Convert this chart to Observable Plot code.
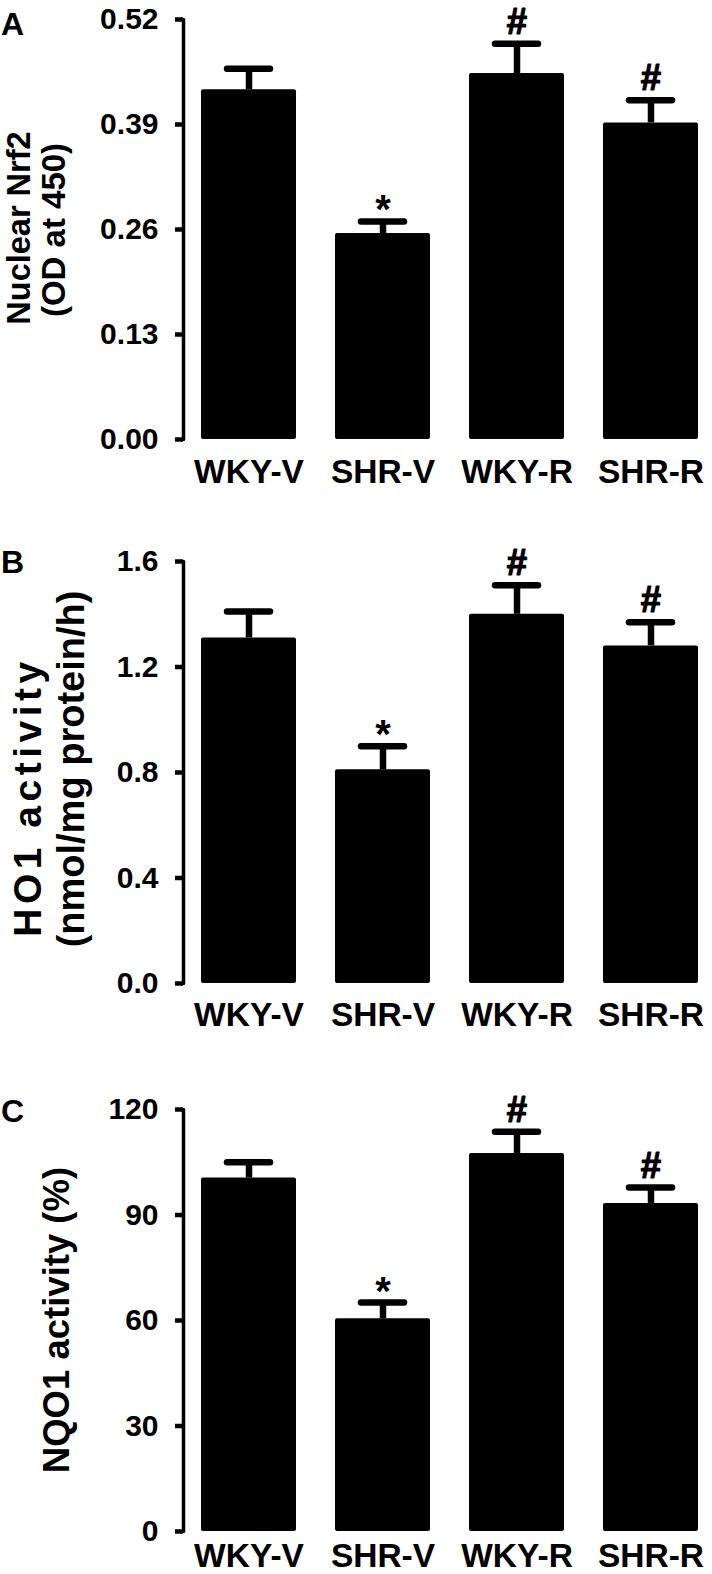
<!DOCTYPE html>
<html>
<head>
<meta charset="utf-8">
<script src="https://cdn.jsdelivr.net/npm/d3@7"></script>
<script src="https://cdn.jsdelivr.net/npm/@observablehq/plot@0.6"></script>
<style>
  html, body { margin: 0; padding: 0; background: #fff; }
  #wrap { position: relative; width: 712px; height: 1574px; overflow: hidden; background: #fff;
          font-family: "Liberation Sans", Arial, sans-serif; font-weight: bold; color: #000; }
  .panel { position: absolute; left: 0; z-index: 0; }
  .plab { position: absolute; z-index: 5; font: bold 32px/32px "Liberation Sans", Arial, sans-serif; }
  .ytitle { position: absolute; z-index: 5; white-space: nowrap; transform: translate(-50%, -50%) rotate(-90deg); }
</style>
</head>
<body>
<div id="wrap">
  <div class="panel" id="pA" style="top:0px"></div>
  <div class="panel" id="pB" style="top:520px"></div>
  <div class="panel" id="pC" style="top:1060px"></div>
  <div class="plab" style="left:1px; top:8px;">A</div>
  <div class="plab" style="left:1px; top:546px;">B</div>
  <div class="plab" style="left:1px; top:1095px;">C</div>
  <div class="ytitle" style="left:18.5px; top:228px; font-size:32.5px; line-height:36px;">Nuclear Nrf2</div>
  <div class="ytitle" style="left:53.6px; top:230px; font-size:33px; line-height:38px;">(OD at 450)</div>
  <div class="ytitle" style="left:26.5px; top:797px; font-size:39px; line-height:45px; letter-spacing:4.5px;">HO1 activity</div>
  <div class="ytitle" style="left:70.8px; top:769px; font-size:38px; line-height:44px;">(nmol/mg protein/h)</div>
  <div class="ytitle" style="left:57px; top:1320px; font-size:36.5px; line-height:42px;">NQO1 activity (%)</div>
</div>
<script>
// ---- data ----
const groups = ["WKY-V", "SHR-V", "WKY-R", "SHR-R"];
const marks = ["", "*", "#", "#"];

const nrf2Mean = [0.433, 0.255, 0.453, 0.392];
const nrf2Sem  = [0.026, 0.015, 0.037, 0.028];
const nrf2Ticks = [0, 0.13, 0.26, 0.39, 0.52];

const ho1Mean = [1.31, 0.81, 1.40, 1.28];
const ho1Sem  = [0.10, 0.09, 0.11, 0.09];
const ho1Ticks = [0, 0.4, 0.8, 1.2, 1.6];

const nqo1Mean = [100.5, 60.5, 107.5, 93.3];
const nqo1Sem  = [4.5, 4.6, 6.2, 4.5];
const nqo1Ticks = [0, 30, 60, 90, 120];

function panel({mean, sem, ticks, fmt, height, marginTop, marginBottom, xPad}) {
  const data = groups.map((g, i) => ({g, v: mean[i], e: sem[i], s: marks[i]}));
  return Plot.plot({
    width: 712,
    height,
    marginLeft: 183,
    marginRight: 0,
    marginTop,
    marginBottom,
    style: {fontFamily: "'Liberation Sans', Arial, sans-serif", fontSize: "30px", fontWeight: "bold", color: "black", background: "white", overflow: "visible"},
    x: {domain: groups, range: [183, 715], paddingInner: 0.293, paddingOuter: 0.13, label: null},
    y: {domain: [ticks[0], ticks[ticks.length - 1]], label: null},
    marks: [
      Plot.frame({anchor: "left", strokeWidth: 3.5, strokeLinecap: "round"}),
      Plot.axisY({ticks, tickFormat: fmt, tickSize: 8, tickPadding: 17, strokeWidth: 4.5, fontSize: 30, label: null}),
      Plot.axisX({tickSize: 0, tickPadding: xPad, fontSize: 33.5, label: null}),
      Plot.barY(data, {x: "g", y: "v", fill: "black", rx: 2}),
      Plot.ruleX(data, {x: "g", y1: "v", y2: d => d.v + d.e, stroke: "black", strokeWidth: 6.5}),
      Plot.tickY(data, {x: "g", y: d => d.v + d.e, stroke: "black", strokeWidth: 6.5, strokeLinecap: "round", insetLeft: 26, insetRight: 26}),
      Plot.text(data.filter(d => d.s === "#"), {x: "g", y: d => d.v + d.e, text: "s", lineAnchor: "bottom", dy: -10, fontSize: 36.5, fontWeight: "bold", fill: "black", stroke: "black", strokeWidth: 1.2}),
      Plot.text(data.filter(d => d.s === "*"), {x: "g", y: d => d.v + d.e, text: "s", lineAnchor: "bottom", dy: 2, fontSize: 40, fontWeight: "bold", fill: "black"})
    ]
  });
}

document.getElementById("pA").append(panel({mean: nrf2Mean, sem: nrf2Sem, ticks: nrf2Ticks, fmt: d3.format(".2f"), height: 520, marginTop: 19, marginBottom: 81, xPad: 20}));
document.getElementById("pB").append(panel({mean: ho1Mean, sem: ho1Sem, ticks: ho1Ticks, fmt: d3.format(".1f"), height: 540, marginTop: 41, marginBottom: 77, xPad: 19}));
document.getElementById("pC").append(panel({mean: nqo1Mean, sem: nqo1Sem, ticks: nqo1Ticks, fmt: d3.format("d"), height: 514, marginTop: 49, marginBottom: 43, xPad: 12}));
</script>
</body>
</html>
